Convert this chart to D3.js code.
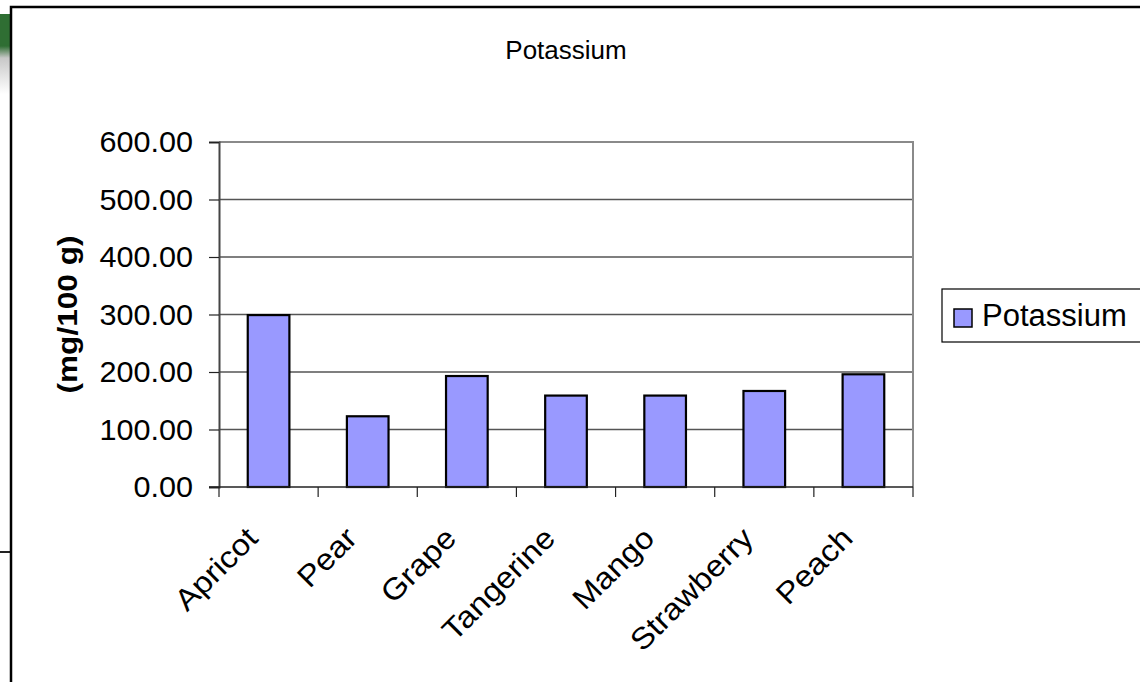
<!DOCTYPE html>
<html><head><meta charset="utf-8">
<script src="https://cdn.jsdelivr.net/npm/d3@7"></script>
<style>
html,body{margin:0;padding:0;background:#fff;overflow:hidden;}
text{font-family:"Liberation Sans",Arial,sans-serif;fill:#000;}
</style></head>
<body>
<svg id="chart" width="1140" height="682"></svg>
<script>
const categories = ["Apricot","Pear","Grape","Tangerine","Mango","Strawberry","Peach"];
const potassium = [299, 123, 193, 159, 159, 167, 196];
const yTicks = [0,100,200,300,400,500,600];
const seriesName = "Potassium";
const chartTitle = "Potassium";
const yTitle = "(mg/100 g)";

const svg = d3.select("#chart");

function stretch(sel, k){
  sel.each(function(){
    const len = this.getComputedTextLength();
    d3.select(this).attr("textLength", len*k).attr("lengthAdjust","spacingAndGlyphs");
  });
}

// decorative background bits at the left edge
const defs = svg.append("defs");
const lg = defs.append("linearGradient").attr("id","gdec").attr("x1",0).attr("y1",0).attr("x2",0).attr("y2",1);
lg.append("stop").attr("offset","0").attr("stop-color","#2f6e33");
lg.append("stop").attr("offset","0.4").attr("stop-color","#2f6e33");
lg.append("stop").attr("offset","0.55").attr("stop-color","#c8c8c8");
lg.append("stop").attr("offset","1").attr("stop-color","#ffffff");
svg.append("rect").attr("x",0).attr("y",14).attr("width",10).attr("height",80).attr("fill","url(#gdec)");
svg.append("line").attr("x1",0).attr("x2",10).attr("y1",552).attr("y2",552).attr("stroke","#222").attr("stroke-width",2);

// outer chart border
svg.append("rect").attr("x",11).attr("y",7).attr("width",1200).attr("height",800)
  .attr("fill","#fff").attr("stroke","#000").attr("stroke-width",2.5);

const plot = {left:219, right:913, top:142, bottom:487};

const x = d3.scaleBand().domain(categories).range([plot.left, plot.right]).paddingInner(0.58).paddingOuter(0.29);
const xb = d3.scaleBand().domain(categories).range([plot.left, plot.right]);
const y = d3.scaleLinear().domain([0,600]).range([plot.bottom, plot.top]);

// gridlines
svg.append("g").selectAll("line").data(yTicks.filter(d=>d>0 && d<600)).join("line")
  .attr("x1",plot.left).attr("x2",plot.right)
  .attr("y1",d=>y(d)).attr("y2",d=>y(d))
  .attr("stroke","#555").attr("stroke-width",1.3);

// plot frame top/right
svg.append("path").attr("d",`M${plot.left},${plot.top}H${plot.right}V${plot.bottom}`)
  .attr("fill","none").attr("stroke","#8a8a8a").attr("stroke-width",2);

// bars
svg.append("g").selectAll("rect").data(categories).join("rect")
  .attr("x",d=>x(d)).attr("width",x.bandwidth())
  .attr("y",(d,i)=>y(potassium[i])).attr("height",(d,i)=>y(0)-y(potassium[i]))
  .attr("fill","#9999ff").attr("stroke","#000").attr("stroke-width",2.2);

// y axis
const yAxis = d3.axisLeft(y).tickValues(yTicks).tickSize(10).tickPadding(16).tickFormat(d3.format(".2f"));
const gy = svg.append("g").attr("transform",`translate(${plot.left},0)`).call(yAxis);
gy.select(".domain").attr("stroke","#444").attr("stroke-width",2);
gy.selectAll(".tick line").attr("stroke","#222").attr("stroke-width",1.2);
gy.selectAll(".tick text").attr("font-size",30).attr("font-family","Liberation Sans, Arial, sans-serif").attr("fill","#000");
stretch(gy.selectAll(".tick text"), 1.02);

// x axis
const gx = svg.append("g").attr("transform",`translate(0,${plot.bottom})`);
gx.append("line").attr("x1",plot.left-10).attr("x2",plot.right).attr("stroke","#222").attr("stroke-width",1.6);
gx.selectAll(".xt").data(categories.concat(["__end"])).join("line").attr("class","xt")
  .attr("x1",(d,i)=> i<categories.length ? xb(d) : plot.right)
  .attr("x2",(d,i)=> i<categories.length ? xb(d) : plot.right)
  .attr("y1",0).attr("y2",10).attr("stroke","#222").attr("stroke-width",1.2);
const xl = gx.selectAll(".xl").data(categories).join("text").attr("class","xl")
  .attr("transform",d=>`translate(${xb(d)+xb.bandwidth()/2-9},53) rotate(-45)`)
  .attr("text-anchor","end").attr("font-size",30).text(d=>d);
stretch(xl, 1.1);

// y title
const yt = svg.append("text").attr("transform",`translate(77,${(plot.top+plot.bottom)/2}) rotate(-90)`)
  .attr("text-anchor","middle").attr("font-size",27).attr("font-weight","bold").text(yTitle);
yt.attr("textLength",158).attr("lengthAdjust","spacingAndGlyphs");

// title
svg.append("text").attr("x",566).attr("y",59).attr("text-anchor","middle").attr("font-size",26).text(chartTitle);

// legend
const lgG = svg.append("g");
lgG.append("rect").attr("x",942).attr("y",289).attr("width",260).attr("height",53)
  .attr("fill","#fff").attr("stroke","#000").attr("stroke-width",1.2);
lgG.append("rect").attr("x",954).attr("y",309).attr("width",18).attr("height",18)
  .attr("fill","#9999ff").attr("stroke","#000").attr("stroke-width",1.5);
lgG.append("text").attr("x",982).attr("y",326).attr("font-size",31).text(seriesName);
</script>
</body></html>
